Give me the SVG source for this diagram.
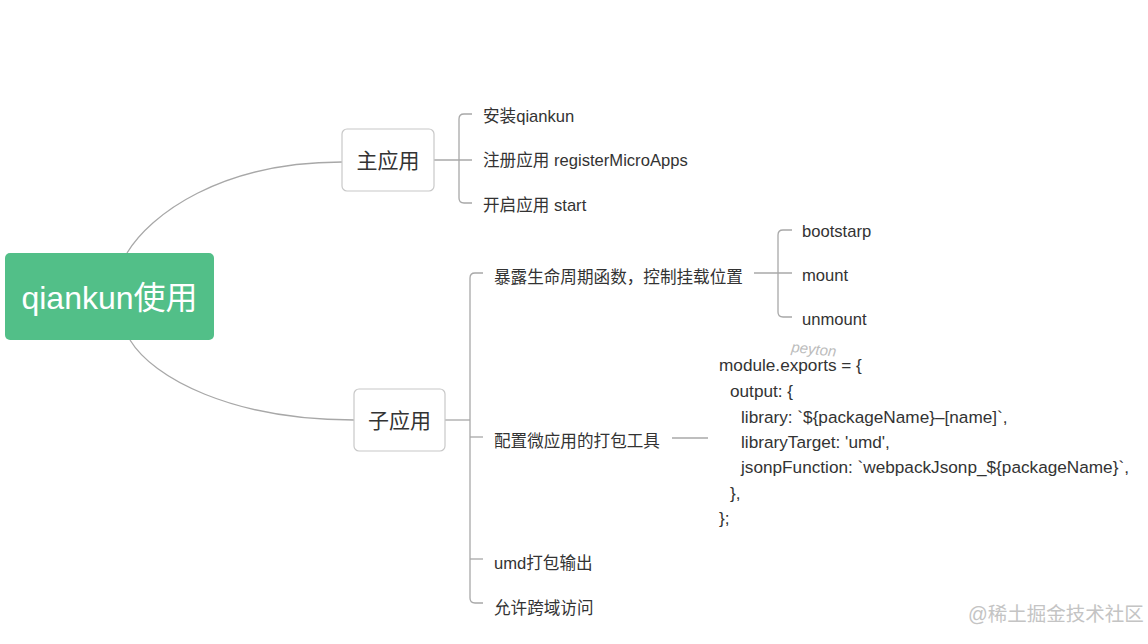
<svg xmlns="http://www.w3.org/2000/svg" width="1148" height="644" viewBox="0 0 1148 644">
  <style>
    .t { font-family: "Liberation Sans", "Noto Sans CJK SC", sans-serif; font-size: 16.6px; fill: #333333; }
    .code { font-family: "Liberation Sans", "Noto Sans CJK SC", sans-serif; font-size: 17.2px; fill: #333333; }
    .box { fill: #ffffff; stroke: #c8c8c8; stroke-width: 1.2; }
    .conn { fill: none; stroke: #a8a8a8; stroke-width: 1.3; }
    .lbl { font-family: "Liberation Sans", "Noto Sans CJK SC", sans-serif; font-size: 21px; fill: #333333; text-anchor: middle; }
  </style>
  <rect width="1148" height="644" fill="#ffffff"/>

  <g id="connectors">
    <path class="conn" d="M127,253 C150,215 220,162 342,162"/>
    <path class="conn" d="M130,340 C153,378 232,420 354,420"/>
    <path class="conn" d="M434,160 H472"/>
    <path class="conn" d="M472,114 H464 Q459,114 459,119 V198 Q459,203 464,203 H472"/>
    <path class="conn" d="M445,420 H470"/>
    <path class="conn" d="M483,273 H475 Q470,273 470,278 V598 Q470,603 475,603 H483"/>
    <path class="conn" d="M470,437 H483"/>
    <path class="conn" d="M470,559 H483"/>
    <path class="conn" d="M754,273 H792"/>
    <path class="conn" d="M792,230 H783 Q778,230 778,235 V312 Q778,317 783,317 H792"/>
    <path class="conn" d="M672,438 H708"/>
  </g>

  <g id="root">
    <rect x="5" y="253" width="209" height="87" rx="5" fill="#52bf88"/>
    <text x="109.5" y="309" font-family="Liberation Sans, Noto Sans CJK SC, sans-serif" font-size="32" fill="#ffffff" text-anchor="middle">qiankun使用</text>
  </g>

  <g id="main-app">
    <rect class="box" x="342" y="129" width="92" height="62" rx="5"/>
    <text class="lbl" x="388" y="168">主应用</text>
  </g>

  <g id="sub-app">
    <rect class="box" x="354" y="389" width="91" height="62" rx="5"/>
    <text class="lbl" x="399.5" y="428">子应用</text>
  </g>

  <g id="install"><text class="t" x="483" y="122">安装qiankun</text></g>
  <g id="register"><text class="t" x="483" y="166">注册应用 registerMicroApps</text></g>
  <g id="start"><text class="t" x="483" y="211">开启应用 start</text></g>

  <g id="lifecycle"><text class="t" x="494" y="283">暴露生命周期函数，控制挂载位置</text></g>
  <g id="bootstrap"><text class="t" x="802" y="237">bootstarp</text></g>
  <g id="mount"><text class="t" x="802" y="281">mount</text></g>
  <g id="unmount"><text class="t" x="802" y="325">unmount</text></g>

  <g id="config"><text class="t" x="494" y="447">配置微应用的打包工具</text></g>
  <g id="code">
    <text class="code" x="719" y="371">module.exports = {</text>
    <text class="code" x="730" y="397">output: {</text>
    <text class="code" x="741" y="423">library: `${packageName}–[name]`,</text>
    <text class="code" x="741" y="448">libraryTarget: 'umd',</text>
    <text class="code" x="741" y="473">jsonpFunction: `webpackJsonp_${packageName}`,</text>
    <text class="code" x="730" y="499">},</text>
    <text class="code" x="719" y="524">};</text>
  </g>

  <g id="umd"><text class="t" x="494" y="569">umd打包输出</text></g>
  <g id="cors"><text class="t" x="494" y="614">允许跨域访问</text></g>

  <text x="791" y="352" transform="rotate(6 791 352)" font-family="Liberation Sans, sans-serif" font-style="italic" font-size="15" fill="#bcbcbc">peyton</text>
  <text x="968" y="621" font-family="Liberation Sans, Noto Sans CJK SC, sans-serif" font-size="19.5" fill="#c4c4c4">@稀土掘金技术社区</text>
</svg>
